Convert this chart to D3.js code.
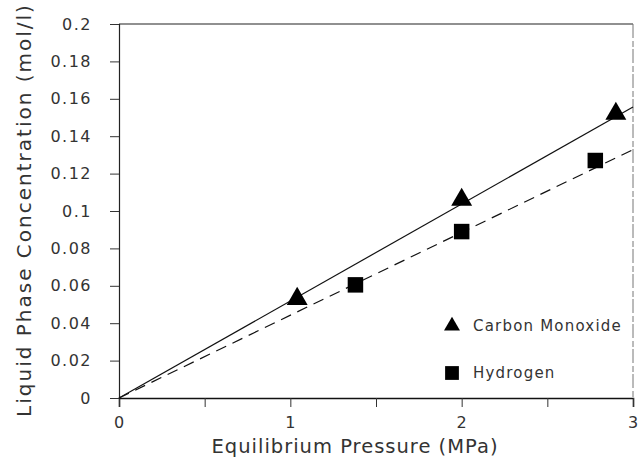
<!DOCTYPE html>
<html>
<head>
<meta charset="utf-8">
<script src="https://cdn.jsdelivr.net/npm/d3@7"></script>
<style>
  body { margin: 0; background: #fff; }
  text { font-family: "DejaVu Sans", sans-serif; fill: #333; }
</style>
</head>
<body>
<div id="main"></div>
<script>
// data
var coPressure = [1.04, 2.0, 2.9];
var coConc = [0.053, 0.106, 0.152];
var h2Pressure = [1.38, 2.0, 2.78];
var h2Conc = [0.0605, 0.089, 0.127];
// fitted lines through the origin (end values at 3 MPa)
var coFit = [[0, 0], [3, 0.1556]];
var h2Fit = [[0, 0], [3, 0.1328]];
var xTicks = [0, 0.5, 1, 1.5, 2, 2.5, 3];
var xLabels = [0, 1, 2, 3];
var yTicks = [0, 0.02, 0.04, 0.06, 0.08, 0.1, 0.12, 0.14, 0.16, 0.18, 0.2];

var margin = { top: 24, right: 7, bottom: 65, left: 119 },
  width = 640 - margin.left - margin.right,
  height = 463 - margin.top - margin.bottom;

var svg = d3.select("#main")
  .append("svg")
  .attr("width", 640)
  .attr("height", 463)
  .append("g")
  .attr("transform", "translate(" + margin.left + "," + margin.top + ")");

var x = d3.scaleLinear().domain([0, 3]).range([0, width]);
var y = d3.scaleLinear().domain([0, 0.2]).range([height, 0]);

// frame: top solid, right faint
svg.append("line")
  .attr("x1", 0).attr("x2", width).attr("y1", 0).attr("y2", 0)
  .attr("stroke", "#222").attr("stroke-width", 1.2);
svg.append("line")
  .attr("x1", width).attr("x2", width).attr("y1", 0).attr("y2", height)
  .attr("stroke", "#777").attr("stroke-width", 1).attr("stroke-dasharray", "14,3,6,2");

// x axis
var xAxis = svg.append("g")
  .attr("transform", "translate(0," + height + ")")
  .call(d3.axisBottom(x).tickValues(xTicks).tickSize(9).tickFormat(""));
xAxis.select(".domain").attr("stroke", "#111").attr("stroke-width", 1.6);
xAxis.selectAll(".tick line").attr("stroke", "#333");
svg.selectAll(".xlab")
  .data(xLabels)
  .enter()
  .append("text")
  .attr("x", function (d) { return x(d); })
  .attr("y", height + 30)
  .attr("text-anchor", "middle")
  .style("font-size", "16px")
  .attr("fill", "#444")
  .text(function (d) { return d; });

// y axis
var yAxis = svg.append("g")
  .call(d3.axisLeft(y).tickValues(yTicks).tickSize(9).tickPadding(18)
    .tickFormat(function (d) { return d === 0 ? "0" : d3.format("")(+d.toFixed(2)); }));
yAxis.select(".domain").attr("stroke", "#222").attr("stroke-width", 1.2);
yAxis.selectAll(".tick line").attr("stroke", "#333");
yAxis.selectAll(".tick text")
  .style("font-size", "16px")
  .style("letter-spacing", "1.5px")
  .style("font-family", "DejaVu Sans, sans-serif")
  .attr("fill", "#444");

// axis labels
svg.append("text")
  .attr("x", 236)
  .attr("y", height + 55)
  .attr("text-anchor", "middle")
  .style("font-size", "19.5px")
  .style("letter-spacing", "1px")
  .attr("fill", "#444")
  .text("Equilibrium Pressure (MPa)");
svg.append("text")
  .attr("transform", "translate(" + (-88) + "," + (height / 2 - 1) + ") rotate(-90)")
  .attr("text-anchor", "middle")
  .style("font-size", "20px")
  .style("letter-spacing", "2px")
  .attr("fill", "#444")
  .text("Liquid Phase Concentration (mol/l)");

// fit lines
var line = d3.line()
  .x(function (d) { return x(d[0]); })
  .y(function (d) { return y(d[1]); });
svg.append("path").datum(coFit)
  .attr("d", line).attr("fill", "none").attr("stroke", "#111").attr("stroke-width", 1.2);
svg.append("path").datum(h2Fit)
  .attr("d", line).attr("fill", "none").attr("stroke", "#111").attr("stroke-width", 1.2)
  .attr("stroke-dasharray", "11,7");

// markers
var tri = d3.symbol().type(d3.symbolTriangle);
var sq = d3.symbol().type(d3.symbolSquare);
svg.selectAll(".co")
  .data(coPressure)
  .enter()
  .append("path")
  .attr("d", tri.size(190))
  .attr("transform", function (d, i) { return "translate(" + x(d) + "," + y(coConc[i]) + ")"; })
  .attr("fill", "#000");
svg.selectAll(".h2")
  .data(h2Pressure)
  .enter()
  .append("path")
  .attr("d", sq.size(240))
  .attr("transform", function (d, i) { return "translate(" + x(d) + "," + y(h2Conc[i]) + ")"; })
  .attr("fill", "#000");

// legend
var legend = [
  { name: "Carbon Monoxide", sym: tri.size(110)(), ly: 302 },
  { name: "Hydrogen", sym: sq.size(190)(), ly: 349 }
];
legend.forEach(function (l) {
  svg.append("path").attr("d", l.sym)
    .attr("transform", "translate(333," + l.ly + ")").attr("fill", "#000");
  svg.append("text").attr("x", 354).attr("y", l.ly)
    .attr("dominant-baseline", "middle")
    .style("font-size", "15px")
    .style("letter-spacing", "1.2px")
    .attr("fill", "#444")
    .text(l.name);
});
</script>
</body>
</html>
